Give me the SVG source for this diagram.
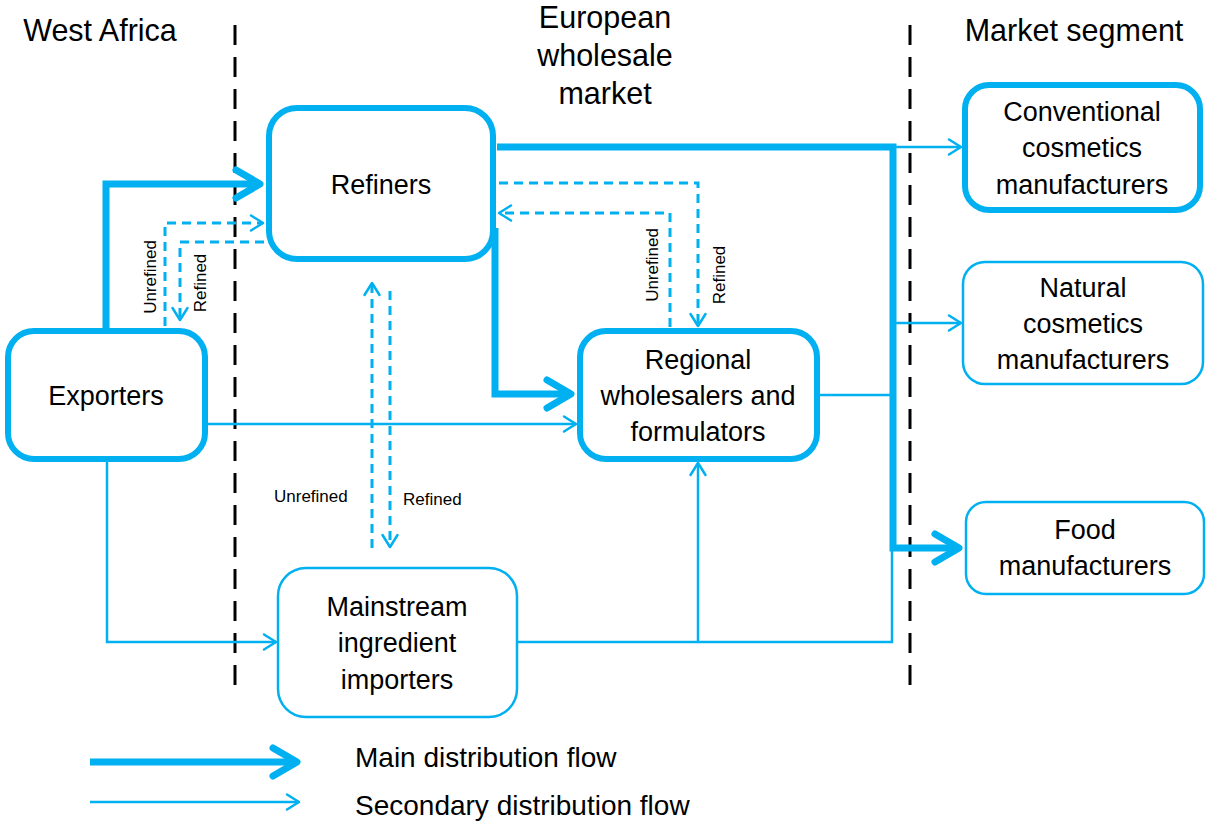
<svg xmlns="http://www.w3.org/2000/svg" width="1207" height="823" viewBox="0 0 1207 823">
<style>
.t{font-family:"Liberation Sans",Arial,sans-serif;fill:#000}
.n{font-size:27px;text-anchor:middle}
.h{font-size:30.5px;text-anchor:middle}
.s{font-size:17px}
.thick{fill:#fff;stroke:#00B0F0;stroke-width:6}
.thin{fill:#fff;stroke:#00B0F0;stroke-width:2.5}
.main{fill:none;stroke:#00B0F0;stroke-width:7;stroke-linejoin:miter}
.sec{fill:none;stroke:#00B0F0;stroke-width:2.5}
.dash{fill:none;stroke:#00B0F0;stroke-width:3;stroke-dasharray:9 6}
.sep{fill:none;stroke:#000;stroke-width:3;stroke-dasharray:20 12}
</style>
<defs>
<marker id="am" markerUnits="userSpaceOnUse" orient="auto" overflow="visible" markerWidth="1" markerHeight="1" refX="0" refY="0">
<path d="M-24,-14 L0,0 L-24,14" fill="none" stroke="#00B0F0" stroke-width="7" stroke-linecap="round" stroke-linejoin="round"/>
</marker>
<marker id="as" markerUnits="userSpaceOnUse" orient="auto" overflow="visible" markerWidth="1" markerHeight="1" refX="0" refY="0">
<path d="M-12,-7.5 L0,0 L-12,7.5" fill="none" stroke="#00B0F0" stroke-width="2.5" stroke-linecap="round" stroke-linejoin="round"/>
</marker>
</defs>

<g id="separators">
<line class="sep" x1="235" y1="25" x2="235" y2="688"/>
<line class="sep" x1="910" y1="25" x2="910" y2="690"/>
</g>

<g id="titles">
<text class="t h" x="100" y="41">West Africa</text>
<text class="t h" x="605" y="28">European</text>
<text class="t h" x="605" y="66">wholesale</text>
<text class="t h" x="605" y="104">market</text>
<text class="t h" x="1074" y="41">Market segment</text>
</g>

<g id="connectors">
<!-- main flows -->
<path class="main" d="M106,330 V184 H260" marker-end="url(#am)"/>
<path class="main" d="M497,147 H893 V548 H959" marker-end="url(#am)"/>
<path class="main" d="M495,228 V394 H571" marker-end="url(#am)"/>
<!-- secondary flows -->
<path class="sec" d="M893,147 H961" marker-end="url(#as)"/>
<path class="sec" d="M893,323 H961" marker-end="url(#as)"/>
<path class="sec" d="M820,395 H893"/>
<path class="sec" d="M208,424 H576" marker-end="url(#as)"/>
<path class="sec" d="M107,462 V642 H276" marker-end="url(#as)"/>
<path class="sec" d="M518,642 H892 V548"/>
<path class="sec" d="M698,642 V463" marker-end="url(#as)"/>
<!-- dashed unrefined/refined flows -->
<path class="dash" d="M165,326 V223 H263" marker-end="url(#as)"/>
<path class="dash" d="M264,242 H180 V320" marker-end="url(#as)"/>
<path class="dash" d="M499,183 H698 V326" marker-end="url(#as)"/>
<path class="dash" d="M670,327 V213 H499" marker-end="url(#as)"/>
<path class="dash" d="M372,548 V283" marker-end="url(#as)"/>
<path class="dash" d="M390,291 V547" marker-end="url(#as)"/>
</g>

<g id="flow-labels">
<text class="t s" text-anchor="middle" transform="translate(156,277) rotate(-90)">Unrefined</text>
<text class="t s" text-anchor="middle" transform="translate(206,283) rotate(-90)">Refined</text>
<text class="t s" text-anchor="middle" transform="translate(658,265) rotate(-90)">Unrefined</text>
<text class="t s" text-anchor="middle" transform="translate(725,275) rotate(-90)">Refined</text>
<text class="t s" x="274" y="502">Unrefined</text>
<text class="t s" x="403" y="505">Refined</text>
</g>

<g id="refiners">
<rect class="thick" x="269" y="108" width="224" height="151" rx="28"/>
<text class="t n" x="381" y="194">Refiners</text>
</g>

<g id="exporters">
<rect class="thick" x="8" y="331" width="197" height="128" rx="26"/>
<text class="t n" x="106" y="405">Exporters</text>
</g>

<g id="regional">
<rect class="thick" x="580" y="331" width="237" height="128" rx="26"/>
<text class="t n" x="698" y="369">Regional</text>
<text class="t n" x="698" y="405">wholesalers and</text>
<text class="t n" x="698" y="441">formulators</text>
</g>

<g id="mainstream">
<rect class="thin" x="278" y="568" width="239" height="149" rx="28"/>
<text class="t n" x="397" y="616">Mainstream</text>
<text class="t n" x="397" y="652">ingredient</text>
<text class="t n" x="397" y="689">importers</text>
</g>

<g id="conventional">
<rect class="thick" x="965" y="85" width="235" height="125" rx="24"/>
<text class="t n" x="1082" y="121">Conventional</text>
<text class="t n" x="1082" y="157">cosmetics</text>
<text class="t n" x="1082" y="194">manufacturers</text>
</g>

<g id="natural">
<rect class="thin" x="963" y="262" width="240" height="122" rx="22"/>
<text class="t n" x="1083" y="297">Natural</text>
<text class="t n" x="1083" y="333">cosmetics</text>
<text class="t n" x="1083" y="369">manufacturers</text>
</g>

<g id="food">
<rect class="thin" x="966" y="502" width="238" height="92" rx="20"/>
<text class="t n" x="1085" y="539">Food</text>
<text class="t n" x="1085" y="575">manufacturers</text>
</g>

<g id="legend">
<path class="main" d="M90,762 H297" marker-end="url(#am)"/>
<path class="sec" d="M90,802 H299" marker-end="url(#as)"/>
<text class="t" font-size="28" x="355" y="767">Main distribution flow</text>
<text class="t" font-size="28" x="355" y="815">Secondary distribution flow</text>
</g>
</svg>
